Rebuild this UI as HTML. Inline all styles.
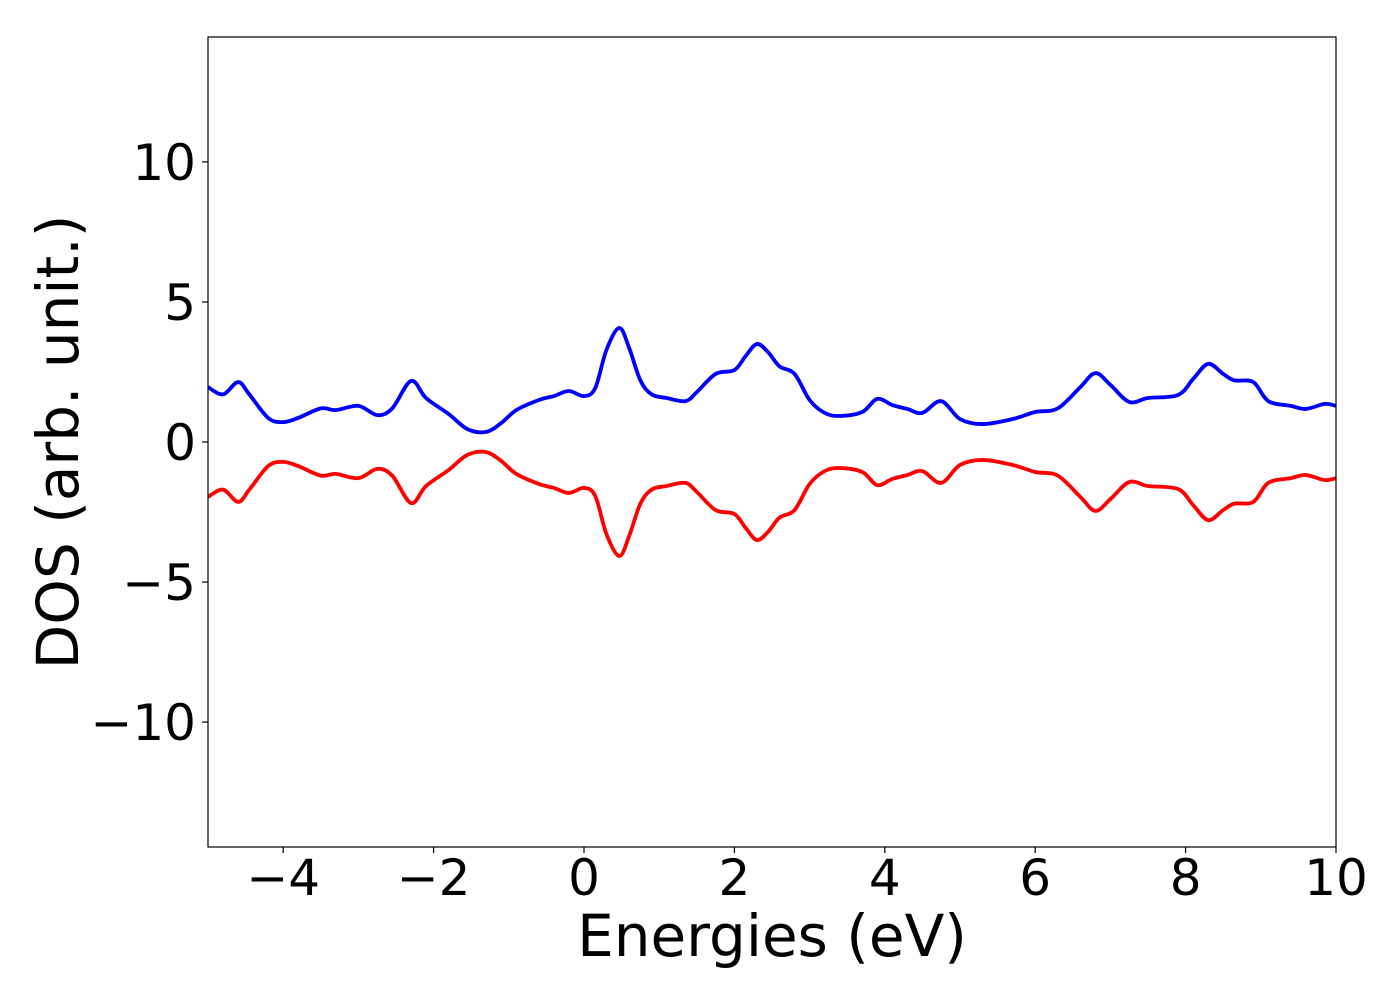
<!DOCTYPE html>
<html><head><meta charset="utf-8"><style>
html,body{margin:0;padding:0;background:#fff;}
svg text{font-family:"DejaVu Sans","Liberation Sans",sans-serif;fill:#000;}
</style></head><body>
<svg id="chart" width="1400" height="1000" xmlns="http://www.w3.org/2000/svg">
<rect x="0" y="0" width="1400" height="1000" fill="#fff"/>
<g id="plot"></g>
</svg>
<script>
const energies = [-5,-4.8,-4.6,-4.45,-4.2,-4.0,-3.8,-3.5,-3.3,-3.0,-2.75,-2.55,-2.3,-2.1,-1.8,-1.55,-1.3,-1.1,-0.9,-0.6,-0.4,-0.2,0.0,0.15,0.3,0.47,0.6,0.75,0.9,1.1,1.35,1.5,1.75,2.0,2.15,2.3,2.45,2.6,2.8,3.0,3.2,3.4,3.7,3.9,4.1,4.3,4.5,4.75,5.0,5.3,5.7,6.0,6.3,6.6,6.8,7.0,7.25,7.5,7.9,8.1,8.3,8.5,8.65,8.9,9.1,9.4,9.6,9.85,10];
const dosUp = [1.96,1.7,2.14,1.7,0.86,0.71,0.86,1.2,1.14,1.29,0.96,1.2,2.18,1.57,1.0,0.46,0.36,0.68,1.14,1.5,1.64,1.82,1.64,1.93,3.3,4.07,3.36,2.2,1.7,1.57,1.46,1.78,2.43,2.57,3.07,3.5,3.2,2.7,2.43,1.5,1.04,0.93,1.07,1.54,1.32,1.18,1.04,1.46,0.82,0.64,0.82,1.07,1.2,1.96,2.46,2.04,1.43,1.57,1.68,2.25,2.79,2.43,2.2,2.14,1.46,1.29,1.18,1.36,1.29];
const dosDown = [-1.96,-1.7,-2.14,-1.7,-0.86,-0.71,-0.86,-1.2,-1.14,-1.29,-0.96,-1.2,-2.18,-1.57,-1.0,-0.46,-0.36,-0.68,-1.14,-1.5,-1.64,-1.82,-1.64,-1.93,-3.3,-4.07,-3.36,-2.2,-1.7,-1.57,-1.46,-1.78,-2.43,-2.57,-3.07,-3.5,-3.2,-2.7,-2.43,-1.5,-1.04,-0.93,-1.07,-1.54,-1.32,-1.18,-1.04,-1.46,-0.82,-0.64,-0.82,-1.07,-1.2,-1.96,-2.46,-2.04,-1.43,-1.57,-1.68,-2.25,-2.79,-2.43,-2.2,-2.14,-1.46,-1.29,-1.18,-1.36,-1.29];
const xTicks = [-4,-2,0,2,4,6,8,10];
const yTicks = [-10,-5,0,5,10];

const L=208,R=1336,T=37,B=847;
const xMin=-5,xMax=10,yMin=-14.46,yMax=14.46;
const sx=v=>L+(v-xMin)/(xMax-xMin)*(R-L);
const sy=v=>B-(v-yMin)/(yMax-yMin)*(B-T);
const NS='http://www.w3.org/2000/svg';
const g=document.getElementById('plot');
function mk(tag,attrs){const e=document.createElementNS(NS,tag);for(const k in attrs)e.setAttribute(k,attrs[k]);g.appendChild(e);return e;}
const fmt=v=>(v<0?'\u2212'+Math.abs(v):''+v);

function path(xs,ys){
  const p=xs.map((x,i)=>[sx(x),sy(ys[i])]);
  let d='M'+p[0][0]+','+p[0][1];
  for(let i=0;i<p.length-1;i++){
    const p0=p[Math.max(0,i-1)],p1=p[i],p2=p[i+1],p3=p[Math.min(p.length-1,i+2)];
    const c1=[p1[0]+(p2[0]-p0[0])/6,p1[1]+(p2[1]-p0[1])/6];
    const c2=[p2[0]-(p3[0]-p1[0])/6,p2[1]-(p3[1]-p1[1])/6];
    d+=' C'+c1[0]+','+c1[1]+' '+c2[0]+','+c2[1]+' '+p2[0]+','+p2[1];
  }
  return d;
}
const clip=mk('clipPath',{id:'pc'});
const cr=document.createElementNS(NS,'rect');cr.setAttribute('x',L);cr.setAttribute('y',T);cr.setAttribute('width',R-L);cr.setAttribute('height',B-T);clip.appendChild(cr);

const up=mk('path',{d:path(energies,dosUp),fill:'none',stroke:'#0000ff','stroke-width':3.8,'clip-path':'url(#pc)','stroke-linejoin':'round'});


const dn=mk('path',{d:path(energies,dosDown),fill:'none',stroke:'#ff0000','stroke-width':3.8,'clip-path':'url(#pc)','stroke-linejoin':'round'});



const fr=mk('rect',{x:L,y:T,width:R-L,height:B-T,fill:'none',stroke:'#000','stroke-width':1.2});



xTicks.forEach(v=>{
  const t=mk('line',{x1:sx(v),x2:sx(v),y1:B,y2:B+6,stroke:'#000','stroke-width':1.2});
  
  
  const l=mk('text',{x:sx(v),y:B+48,'text-anchor':'middle','font-size':50});
  
  
  l.textContent=fmt(v);
});
yTicks.forEach(v=>{
  const t=mk('line',{x1:L-6,x2:L,y1:sy(v),y2:sy(v),stroke:'#000','stroke-width':1.2});
  
  
  const l=mk('text',{x:L-12,y:sy(v)+18,'text-anchor':'end','font-size':50});
  
  
  l.textContent=fmt(v);
});
const xl=mk('text',{x:(L+R)/2,y:956,'text-anchor':'middle','font-size':58});


xl.textContent='Energies (eV)';
const yl=mk('text',{x:0,y:0,'text-anchor':'middle','font-size':58,transform:'translate(78,442) rotate(-90)'});


yl.textContent='DOS (arb. unit.)';
</script>
</body></html>
